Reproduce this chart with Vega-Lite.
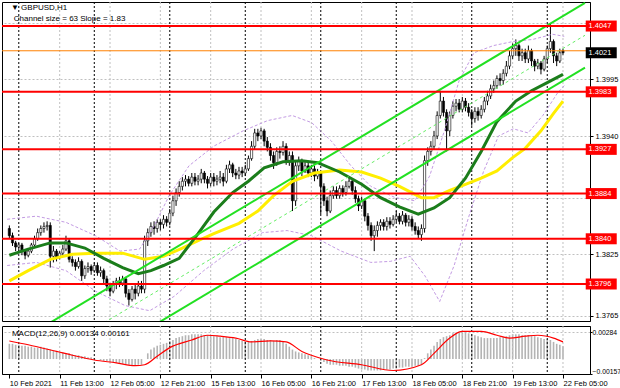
{
"$schema": "https://vega.github.io/schema/vega-lite/v6.json",
"background": "#ffffff",
"padding": {"left": 0, "top": 1, "right": 0, "bottom": 0},
"spacing": 3,
"config": {
  "view": {"stroke": "#000000", "strokeWidth": 1},
  "axis": {"labelFont": "Liberation Sans", "labelFontSize": 7.5, "labelColor": "#000000", "domainColor": "#000000", "tickColor": "#000000"},
  "text": {"font": "Liberation Sans", "fontSize": 8}
},
"datasets": {
  "bars": [
{"t":-3,"o":1.3850,"h":1.3853,"l":1.3840,"c":1.3843,"m":0.0016},
{"t":-2,"o":1.3843,"h":1.3846,"l":1.3833,"c":1.3836,"m":0.0016},
{"t":-1,"o":1.3836,"h":1.3838,"l":1.3828,"c":1.3832,"m":0.0015},
{"t":0,"o":1.3832,"h":1.3836,"l":1.3828,"c":1.3834,"m":0.0015},
{"t":1,"o":1.3834,"h":1.3836,"l":1.3824,"c":1.3828,"m":0.0014},
{"t":2,"o":1.3828,"h":1.3830,"l":1.3820,"c":1.3824,"m":0.0014},
{"t":3,"o":1.3824,"h":1.3830,"l":1.3822,"c":1.3828,"m":0.0013},
{"t":4,"o":1.3828,"h":1.3836,"l":1.3826,"c":1.3834,"m":0.0013},
{"t":5,"o":1.3834,"h":1.3843,"l":1.3832,"c":1.3840,"m":0.0012},
{"t":6,"o":1.3840,"h":1.3850,"l":1.3838,"c":1.3846,"m":0.0012},
{"t":7,"o":1.3846,"h":1.3853,"l":1.3843,"c":1.3850,"m":0.0013},
{"t":8,"o":1.3850,"h":1.3856,"l":1.3846,"c":1.3852,"m":0.0012},
{"t":9,"o":1.3852,"h":1.3857,"l":1.3848,"c":1.3853,"m":0.0011},
{"t":10,"o":1.3853,"h":1.3856,"l":1.3812,"c":1.3823,"m":0.0010},
{"t":11,"o":1.3823,"h":1.3833,"l":1.3817,"c":1.3828,"m":0.0009},
{"t":12,"o":1.3828,"h":1.3830,"l":1.3818,"c":1.3822,"m":0.0008},
{"t":13,"o":1.3822,"h":1.3828,"l":1.3820,"c":1.3826,"m":0.0007},
{"t":14,"o":1.3826,"h":1.3834,"l":1.3823,"c":1.3830,"m":0.0007},
{"t":15,"o":1.3830,"h":1.3843,"l":1.3828,"c":1.3838,"m":0.0006},
{"t":16,"o":1.3838,"h":1.3840,"l":1.3817,"c":1.3820,"m":0.0006},
{"t":17,"o":1.3820,"h":1.3823,"l":1.3813,"c":1.3817,"m":0.0005},
{"t":18,"o":1.3817,"h":1.3820,"l":1.3809,"c":1.3813,"m":0.0004},
{"t":19,"o":1.3813,"h":1.3822,"l":1.3811,"c":1.3818,"m":0.0004},
{"t":20,"o":1.3818,"h":1.3820,"l":1.3799,"c":1.3804,"m":0.0003},
{"t":21,"o":1.3804,"h":1.3814,"l":1.3801,"c":1.3811,"m":0.0003},
{"t":22,"o":1.3811,"h":1.3817,"l":1.3807,"c":1.3813,"m":0.0002},
{"t":23,"o":1.3813,"h":1.3815,"l":1.3805,"c":1.3809,"m":0.0002},
{"t":24,"o":1.3809,"h":1.3817,"l":1.3807,"c":1.3814,"m":0.0001},
{"t":25,"o":1.3814,"h":1.3817,"l":1.3804,"c":1.3807,"m":0.0000},
{"t":26,"o":1.3807,"h":1.3813,"l":1.3803,"c":1.3809,"m":-0.0001},
{"t":27,"o":1.3809,"h":1.3811,"l":1.3797,"c":1.3801,"m":-0.0002},
{"t":28,"o":1.3801,"h":1.3804,"l":1.3789,"c":1.3794,"m":-0.0002},
{"t":29,"o":1.3794,"h":1.3797,"l":1.3784,"c":1.3789,"m":-0.0003},
{"t":30,"o":1.3789,"h":1.3799,"l":1.3787,"c":1.3796,"m":-0.0004},
{"t":31,"o":1.3796,"h":1.3802,"l":1.3791,"c":1.3799,"m":-0.0004},
{"t":32,"o":1.3799,"h":1.3803,"l":1.3793,"c":1.3797,"m":-0.0005},
{"t":33,"o":1.3797,"h":1.3804,"l":1.3794,"c":1.3801,"m":-0.0005},
{"t":34,"o":1.3801,"h":1.3803,"l":1.3783,"c":1.3787,"m":-0.0006},
{"t":35,"o":1.3787,"h":1.3791,"l":1.3775,"c":1.3781,"m":-0.0006},
{"t":36,"o":1.3781,"h":1.3794,"l":1.3779,"c":1.3791,"m":-0.0007},
{"t":37,"o":1.3791,"h":1.3795,"l":1.3781,"c":1.3787,"m":-0.0007},
{"t":38,"o":1.3787,"h":1.3799,"l":1.3784,"c":1.3794,"m":-0.0006},
{"t":39,"o":1.3794,"h":1.3799,"l":1.3787,"c":1.3791,"m":-0.0006},
{"t":40,"o":1.3791,"h":1.3843,"l":1.3787,"c":1.3838,"m":0.0000},
{"t":41,"o":1.3838,"h":1.3850,"l":1.3833,"c":1.3846,"m":0.0006},
{"t":42,"o":1.3846,"h":1.3856,"l":1.3842,"c":1.3852,"m":0.0010},
{"t":43,"o":1.3852,"h":1.3857,"l":1.3844,"c":1.3850,"m":0.0012},
{"t":44,"o":1.3850,"h":1.3859,"l":1.3846,"c":1.3856,"m":0.0014},
{"t":45,"o":1.3856,"h":1.3859,"l":1.3848,"c":1.3854,"m":0.0015},
{"t":46,"o":1.3854,"h":1.3863,"l":1.3850,"c":1.3859,"m":0.0016},
{"t":47,"o":1.3859,"h":1.3862,"l":1.3852,"c":1.3856,"m":0.0017},
{"t":48,"o":1.3856,"h":1.3869,"l":1.3853,"c":1.3865,"m":0.0019},
{"t":49,"o":1.3865,"h":1.3882,"l":1.3862,"c":1.3877,"m":0.0020},
{"t":50,"o":1.3877,"h":1.3889,"l":1.3872,"c":1.3885,"m":0.0022},
{"t":51,"o":1.3885,"h":1.3896,"l":1.3881,"c":1.3891,"m":0.0023},
{"t":52,"o":1.3891,"h":1.3900,"l":1.3887,"c":1.3896,"m":0.0024},
{"t":53,"o":1.3896,"h":1.3902,"l":1.3891,"c":1.3898,"m":0.0025},
{"t":54,"o":1.3898,"h":1.3901,"l":1.3891,"c":1.3894,"m":0.0025},
{"t":55,"o":1.3894,"h":1.3904,"l":1.3891,"c":1.3900,"m":0.0026},
{"t":56,"o":1.3900,"h":1.3904,"l":1.3892,"c":1.3896,"m":0.0026},
{"t":57,"o":1.3896,"h":1.3902,"l":1.3892,"c":1.3898,"m":0.0026},
{"t":58,"o":1.3898,"h":1.3908,"l":1.3894,"c":1.3904,"m":0.0026},
{"t":59,"o":1.3904,"h":1.3906,"l":1.3894,"c":1.3898,"m":0.0025},
{"t":60,"o":1.3898,"h":1.3901,"l":1.3889,"c":1.3894,"m":0.0025},
{"t":61,"o":1.3894,"h":1.3904,"l":1.3891,"c":1.3900,"m":0.0025},
{"t":62,"o":1.3900,"h":1.3904,"l":1.3891,"c":1.3896,"m":0.0024},
{"t":63,"o":1.3896,"h":1.3902,"l":1.3892,"c":1.3898,"m":0.0024},
{"t":64,"o":1.3898,"h":1.3906,"l":1.3894,"c":1.3900,"m":0.0023},
{"t":65,"o":1.3900,"h":1.3904,"l":1.3891,"c":1.3896,"m":0.0023},
{"t":66,"o":1.3896,"h":1.3912,"l":1.3894,"c":1.3908,"m":0.0023},
{"t":67,"o":1.3908,"h":1.3916,"l":1.3904,"c":1.3912,"m":0.0022},
{"t":68,"o":1.3912,"h":1.3914,"l":1.3900,"c":1.3904,"m":0.0022},
{"t":69,"o":1.3904,"h":1.3908,"l":1.3898,"c":1.3902,"m":0.0021},
{"t":70,"o":1.3902,"h":1.3910,"l":1.3898,"c":1.3906,"m":0.0020},
{"t":71,"o":1.3906,"h":1.3910,"l":1.3900,"c":1.3904,"m":0.0019},
{"t":72,"o":1.3904,"h":1.3912,"l":1.3901,"c":1.3908,"m":0.0018},
{"t":73,"o":1.3908,"h":1.3921,"l":1.3906,"c":1.3918,"m":0.0018},
{"t":74,"o":1.3918,"h":1.3935,"l":1.3916,"c":1.3930,"m":0.0019},
{"t":75,"o":1.3930,"h":1.3947,"l":1.3927,"c":1.3943,"m":0.0020},
{"t":76,"o":1.3943,"h":1.3947,"l":1.3935,"c":1.3940,"m":0.0021},
{"t":77,"o":1.3940,"h":1.3948,"l":1.3937,"c":1.3945,"m":0.0021},
{"t":78,"o":1.3945,"h":1.3947,"l":1.3930,"c":1.3935,"m":0.0021},
{"t":79,"o":1.3935,"h":1.3939,"l":1.3925,"c":1.3929,"m":0.0020},
{"t":80,"o":1.3929,"h":1.3933,"l":1.3916,"c":1.3921,"m":0.0020},
{"t":81,"o":1.3921,"h":1.3925,"l":1.3908,"c":1.3914,"m":0.0019},
{"t":82,"o":1.3914,"h":1.3929,"l":1.3911,"c":1.3925,"m":0.0020},
{"t":83,"o":1.3925,"h":1.3930,"l":1.3918,"c":1.3924,"m":0.0020},
{"t":84,"o":1.3924,"h":1.3935,"l":1.3921,"c":1.3930,"m":0.0019},
{"t":85,"o":1.3930,"h":1.3933,"l":1.3912,"c":1.3916,"m":0.0016},
{"t":86,"o":1.3916,"h":1.3925,"l":1.3911,"c":1.3921,"m":0.0013},
{"t":87,"o":1.3921,"h":1.3925,"l":1.3867,"c":1.3877,"m":0.0010},
{"t":88,"o":1.3877,"h":1.3916,"l":1.3872,"c":1.3911,"m":0.0008},
{"t":89,"o":1.3911,"h":1.3920,"l":1.3906,"c":1.3916,"m":0.0007},
{"t":90,"o":1.3916,"h":1.3918,"l":1.3901,"c":1.3906,"m":0.0006},
{"t":91,"o":1.3906,"h":1.3916,"l":1.3904,"c":1.3911,"m":0.0005},
{"t":92,"o":1.3911,"h":1.3914,"l":1.3900,"c":1.3904,"m":0.0004},
{"t":93,"o":1.3904,"h":1.3912,"l":1.3900,"c":1.3908,"m":0.0003},
{"t":94,"o":1.3908,"h":1.3911,"l":1.3896,"c":1.3901,"m":0.0001},
{"t":95,"o":1.3901,"h":1.3908,"l":1.3898,"c":1.3904,"m":0.0000},
{"t":96,"o":1.3904,"h":1.3906,"l":1.3864,"c":1.3891,"m":-0.0002},
{"t":97,"o":1.3891,"h":1.3894,"l":1.3872,"c":1.3877,"m":-0.0003},
{"t":98,"o":1.3877,"h":1.3881,"l":1.3862,"c":1.3867,"m":-0.0005},
{"t":99,"o":1.3867,"h":1.3887,"l":1.3865,"c":1.3882,"m":-0.0006},
{"t":100,"o":1.3882,"h":1.3891,"l":1.3879,"c":1.3887,"m":-0.0006},
{"t":101,"o":1.3887,"h":1.3891,"l":1.3879,"c":1.3882,"m":-0.0006},
{"t":102,"o":1.3882,"h":1.3892,"l":1.3879,"c":1.3889,"m":-0.0007},
{"t":103,"o":1.3889,"h":1.3892,"l":1.3881,"c":1.3885,"m":-0.0007},
{"t":104,"o":1.3885,"h":1.3896,"l":1.3882,"c":1.3891,"m":-0.0007},
{"t":105,"o":1.3891,"h":1.3901,"l":1.3889,"c":1.3896,"m":-0.0008},
{"t":106,"o":1.3896,"h":1.3898,"l":1.3883,"c":1.3887,"m":-0.0008},
{"t":107,"o":1.3887,"h":1.3891,"l":1.3875,"c":1.3879,"m":-0.0009},
{"t":108,"o":1.3879,"h":1.3882,"l":1.3867,"c":1.3872,"m":-0.0010},
{"t":109,"o":1.3872,"h":1.3881,"l":1.3869,"c":1.3877,"m":-0.0011},
{"t":110,"o":1.3877,"h":1.3879,"l":1.3857,"c":1.3862,"m":-0.0011},
{"t":111,"o":1.3862,"h":1.3865,"l":1.3848,"c":1.3853,"m":-0.0012},
{"t":112,"o":1.3853,"h":1.3856,"l":1.3838,"c":1.3843,"m":-0.0012},
{"t":113,"o":1.3843,"h":1.3853,"l":1.3828,"c":1.3848,"m":-0.0012},
{"t":114,"o":1.3848,"h":1.3857,"l":1.3842,"c":1.3853,"m":-0.0012},
{"t":115,"o":1.3853,"h":1.3859,"l":1.3848,"c":1.3856,"m":-0.0012},
{"t":116,"o":1.3856,"h":1.3859,"l":1.3848,"c":1.3852,"m":-0.0011},
{"t":117,"o":1.3852,"h":1.3861,"l":1.3848,"c":1.3857,"m":-0.0011},
{"t":118,"o":1.3857,"h":1.3861,"l":1.3850,"c":1.3854,"m":-0.0011},
{"t":119,"o":1.3854,"h":1.3863,"l":1.3852,"c":1.3859,"m":-0.0010},
{"t":120,"o":1.3859,"h":1.3867,"l":1.3856,"c":1.3862,"m":-0.0010},
{"t":121,"o":1.3862,"h":1.3865,"l":1.3854,"c":1.3857,"m":-0.0009},
{"t":122,"o":1.3857,"h":1.3867,"l":1.3854,"c":1.3863,"m":-0.0009},
{"t":123,"o":1.3863,"h":1.3865,"l":1.3852,"c":1.3856,"m":-0.0008},
{"t":124,"o":1.3856,"h":1.3863,"l":1.3852,"c":1.3859,"m":-0.0008},
{"t":125,"o":1.3859,"h":1.3862,"l":1.3848,"c":1.3852,"m":-0.0008},
{"t":126,"o":1.3852,"h":1.3856,"l":1.3844,"c":1.3848,"m":-0.0007},
{"t":127,"o":1.3848,"h":1.3852,"l":1.3840,"c":1.3844,"m":-0.0007},
{"t":128,"o":1.3844,"h":1.3854,"l":1.3838,"c":1.3850,"m":-0.0006},
{"t":129,"o":1.3850,"h":1.3921,"l":1.3846,"c":1.3916,"m":0.0001},
{"t":130,"o":1.3916,"h":1.3929,"l":1.3911,"c":1.3925,"m":0.0006},
{"t":131,"o":1.3925,"h":1.3935,"l":1.3921,"c":1.3930,"m":0.0010},
{"t":132,"o":1.3930,"h":1.3945,"l":1.3927,"c":1.3940,"m":0.0014},
{"t":133,"o":1.3940,"h":1.3964,"l":1.3937,"c":1.3960,"m":0.0018},
{"t":134,"o":1.3960,"h":1.3984,"l":1.3957,"c":1.3974,"m":0.0021},
{"t":135,"o":1.3974,"h":1.3978,"l":1.3959,"c":1.3963,"m":0.0023},
{"t":136,"o":1.3963,"h":1.3966,"l":1.3925,"c":1.3945,"m":0.0024},
{"t":137,"o":1.3945,"h":1.3964,"l":1.3940,"c":1.3960,"m":0.0025},
{"t":138,"o":1.3960,"h":1.3974,"l":1.3957,"c":1.3969,"m":0.0027},
{"t":139,"o":1.3969,"h":1.3976,"l":1.3964,"c":1.3972,"m":0.0028},
{"t":140,"o":1.3972,"h":1.3976,"l":1.3963,"c":1.3966,"m":0.0028},
{"t":141,"o":1.3966,"h":1.3978,"l":1.3963,"c":1.3974,"m":0.0028},
{"t":142,"o":1.3974,"h":1.3977,"l":1.3964,"c":1.3968,"m":0.0028},
{"t":143,"o":1.3968,"h":1.3972,"l":1.3959,"c":1.3963,"m":0.0027},
{"t":144,"o":1.3963,"h":1.3966,"l":1.3950,"c":1.3957,"m":0.0026},
{"t":145,"o":1.3957,"h":1.3968,"l":1.3953,"c":1.3964,"m":0.0025},
{"t":146,"o":1.3964,"h":1.3968,"l":1.3955,"c":1.3960,"m":0.0024},
{"t":147,"o":1.3960,"h":1.3970,"l":1.3957,"c":1.3966,"m":0.0023},
{"t":148,"o":1.3966,"h":1.3978,"l":1.3963,"c":1.3974,"m":0.0022},
{"t":149,"o":1.3974,"h":1.3984,"l":1.3970,"c":1.3979,"m":0.0022},
{"t":150,"o":1.3979,"h":1.3990,"l":1.3976,"c":1.3986,"m":0.0022},
{"t":151,"o":1.3986,"h":1.3994,"l":1.3982,"c":1.3989,"m":0.0022},
{"t":152,"o":1.3989,"h":1.3999,"l":1.3986,"c":1.3996,"m":0.0022},
{"t":153,"o":1.3996,"h":1.4001,"l":1.3989,"c":1.3994,"m":0.0023},
{"t":154,"o":1.3994,"h":1.4005,"l":1.3990,"c":1.4001,"m":0.0023},
{"t":155,"o":1.4001,"h":1.4013,"l":1.3998,"c":1.4008,"m":0.0024},
{"t":156,"o":1.4008,"h":1.4023,"l":1.4005,"c":1.4018,"m":0.0025},
{"t":157,"o":1.4018,"h":1.4030,"l":1.4015,"c":1.4025,"m":0.0026},
{"t":158,"o":1.4025,"h":1.4034,"l":1.4018,"c":1.4028,"m":0.0026},
{"t":159,"o":1.4028,"h":1.4030,"l":1.4013,"c":1.4018,"m":0.0026},
{"t":160,"o":1.4018,"h":1.4025,"l":1.4013,"c":1.4021,"m":0.0025},
{"t":161,"o":1.4021,"h":1.4025,"l":1.4011,"c":1.4015,"m":0.0025},
{"t":162,"o":1.4015,"h":1.4028,"l":1.4011,"c":1.4023,"m":0.0025},
{"t":163,"o":1.4023,"h":1.4025,"l":1.4008,"c":1.4013,"m":0.0024},
{"t":164,"o":1.4013,"h":1.4015,"l":1.4003,"c":1.4008,"m":0.0024},
{"t":165,"o":1.4008,"h":1.4015,"l":1.4005,"c":1.4011,"m":0.0023},
{"t":166,"o":1.4011,"h":1.4013,"l":1.4000,"c":1.4005,"m":0.0022},
{"t":167,"o":1.4005,"h":1.4018,"l":1.4003,"c":1.4015,"m":0.0021},
{"t":168,"o":1.4015,"h":1.4028,"l":1.4011,"c":1.4025,"m":0.0021},
{"t":169,"o":1.4025,"h":1.4050,"l":1.4021,"c":1.4032,"m":0.0020},
{"t":170,"o":1.4032,"h":1.4034,"l":1.4011,"c":1.4018,"m":0.0018},
{"t":171,"o":1.4018,"h":1.4021,"l":1.4008,"c":1.4013,"m":0.0016},
{"t":172,"o":1.4013,"h":1.4025,"l":1.4011,"c":1.4021,"m":0.0015},
{"t":173,"o":1.4023,"h":1.4025,"l":1.4019,"c":1.4021,"m":0.00134}
  ],
  "maGreen": [
{"t":-3,"v":1.3824},{"t":3,"v":1.3830},{"t":10,"v":1.3836},{"t":15,"v":1.3836},{"t":21,"v":1.3831},{"t":27,"v":1.3821},{"t":33,"v":1.3812},{"t":38,"v":1.3806},{"t":42,"v":1.3809},{"t":46,"v":1.3814},{"t":51,"v":1.3821},{"t":57,"v":1.3845},{"t":62,"v":1.3866},{"t":68,"v":1.3885},{"t":73,"v":1.3896},{"t":78,"v":1.3909},{"t":84,"v":1.3915},{"t":90,"v":1.3916},{"t":95,"v":1.3914},{"t":102,"v":1.3905},{"t":109,"v":1.3893},{"t":115,"v":1.3880},{"t":121,"v":1.3871},{"t":127,"v":1.3864},{"t":132,"v":1.3870},{"t":137,"v":1.3880},{"t":142,"v":1.3899},{"t":147,"v":1.3925},{"t":152,"v":1.3954},{"t":158,"v":1.3974},{"t":163,"v":1.3984},{"t":168,"v":1.3992},{"t":173,"v":1.4000}
  ],
  "maYellow": [
{"t":-3,"v":1.3799},{"t":3,"v":1.3809},{"t":10,"v":1.3820},{"t":17,"v":1.3825},{"t":24,"v":1.3826},{"t":33,"v":1.3826},{"t":40,"v":1.3820},{"t":46,"v":1.3823},{"t":52,"v":1.3831},{"t":59,"v":1.3841},{"t":62,"v":1.3845},{"t":70,"v":1.3855},{"t":76,"v":1.3867},{"t":81,"v":1.3882},{"t":87,"v":1.3896},{"t":94,"v":1.3904},{"t":102,"v":1.3907},{"t":109,"v":1.3905},{"t":115,"v":1.3899},{"t":121,"v":1.3891},{"t":128,"v":1.3880},{"t":132,"v":1.3880},{"t":137,"v":1.3887},{"t":142,"v":1.3893},{"t":147,"v":1.3899},{"t":152,"v":1.3906},{"t":157,"v":1.3919},{"t":161,"v":1.3928},{"t":166,"v":1.3945},{"t":170,"v":1.3962},{"t":173,"v":1.3974}
  ],
  "bands": [
{"k":"u","t":-3.7,"v":1.3859},{"k":"u","t":5.6,"v":1.3862},{"k":"u","t":15,"v":1.3856},{"k":"u","t":24.4,"v":1.3843},{"k":"u","t":32.2,"v":1.3828},{"k":"u","t":38.4,"v":1.3830},{"k":"u","t":43.1,"v":1.3853},{"k":"u","t":47.8,"v":1.3882},{"k":"u","t":54.1,"v":1.3911},{"k":"u","t":61.9,"v":1.3930},{"k":"u","t":71.3,"v":1.3945},{"k":"u","t":79.1,"v":1.3955},{"k":"u","t":86.9,"v":1.3960},{"k":"u","t":93.1,"v":1.3953},{"k":"u","t":99.4,"v":1.3935},{"k":"u","t":105.6,"v":1.3911},{"k":"u","t":111.9,"v":1.3891},{"k":"u","t":119.7,"v":1.3880},{"k":"u","t":125.9,"v":1.3877},{"k":"u","t":130.6,"v":1.3901},{"k":"u","t":135.3,"v":1.3945},{"k":"u","t":140,"v":1.3994},{"k":"u","t":144.7,"v":1.4021},{"k":"u","t":150.9,"v":1.4028},{"k":"u","t":157.2,"v":1.4032},{"k":"u","t":163.4,"v":1.4034},{"k":"u","t":169.7,"v":1.4039},{"k":"u","t":173.4,"v":1.4037},
{"k":"l","t":-3.7,"v":1.3814},{"k":"l","t":5.6,"v":1.3817},{"k":"l","t":15,"v":1.3809},{"k":"l","t":24.4,"v":1.3789},{"k":"l","t":33.8,"v":1.3775},{"k":"l","t":41.6,"v":1.3770},{"k":"l","t":49.4,"v":1.3784},{"k":"l","t":58.8,"v":1.3809},{"k":"l","t":68.1,"v":1.3830},{"k":"l","t":77.5,"v":1.3846},{"k":"l","t":85.3,"v":1.3848},{"k":"l","t":93.1,"v":1.3843},{"k":"l","t":102.5,"v":1.3828},{"k":"l","t":111.9,"v":1.3817},{"k":"l","t":118.1,"v":1.3818},{"k":"l","t":124.4,"v":1.3823},{"k":"l","t":129.1,"v":1.3804},{"k":"l","t":133.8,"v":1.3779},{"k":"l","t":138.4,"v":1.3814},{"k":"l","t":143.1,"v":1.3862},{"k":"l","t":147.8,"v":1.3906},{"k":"l","t":152.5,"v":1.3940},{"k":"l","t":157.2,"v":1.3947},{"k":"l","t":161.9,"v":1.3943},{"k":"l","t":166.6,"v":1.3960},{"k":"l","t":171.3,"v":1.3982},{"k":"l","t":173.4,"v":1.3989}
  ],
  "chan": [
{"k":"upper","t":-4,"v":1.37328},{"k":"upper","t":180,"v":1.40695},
{"k":"lower","t":-4,"v":1.36698},{"k":"lower","t":180,"v":1.40065}
  ],
  "chanMid": [
{"t":-4,"v":1.37013},{"t":180,"v":1.40380}
  ],
  "levels": [{"p":1.4047},{"p":1.3983},{"p":1.3927},{"p":1.3884},{"p":1.3840},{"p":1.3796}],
  "current": [{"p":1.4021}],
  "vgrid": [{"t":13},{"t":29},{"t":45},{"t":61},{"t":77},{"t":93},{"t":109},{"t":125},{"t":141},{"t":157},{"t":173}],
  "days": [{"t":0},{"t":24},{"t":48},{"t":72},{"t":96},{"t":120},{"t":144},{"t":168}],
  "sig": [
{"t":-3,"s":0.0019},{"t":3,"s":0.0015},{"t":12,"s":0.0008},{"t":17,"s":0.0004},{"t":24,"s":-0.0001},{"t":31,"s":-0.0004},{"t":37,"s":-0.0007},{"t":40,"s":-0.0006},{"t":44,"s":0.0003},{"t":48,"s":0.0012},{"t":55,"s":0.0020},{"t":60,"s":0.0025},{"t":64,"s":0.0024},{"t":69,"s":0.0022},{"t":74,"s":0.0018},{"t":80,"s":0.0019},{"t":85,"s":0.0018},{"t":90,"s":0.0008},{"t":93,"s":0.0004},{"t":98,"s":-0.0001},{"t":109,"s":-0.0006},{"t":119,"s":-0.0012},{"t":128,"s":-0.0006},{"t":132,"s":0.0006},{"t":137,"s":0.0022},{"t":141,"s":0.0029},{"t":147,"s":0.0029},{"t":152,"s":0.0025},{"t":156,"s":0.0022},{"t":161,"s":0.0024},{"t":165,"s":0.0025},{"t":170,"s":0.0022},{"t":173,"s":0.0018}
  ]
},
"vconcat": [
{
  "width": 588,
  "height": 319,
  "layer": [
    {"data": {"name": "vgrid"}, "mark": {"type": "rule", "color": "#c0c0c0", "strokeDash": [2, 2], "strokeWidth": 1},
     "encoding": {"x": {"field": "t", "type": "quantitative", "title": null, "axis": null, "scale": {"domain": [-3.75, 180], "nice": false, "zero": false}}}},
    {"data": {"name": "days"}, "mark": {"type": "rule", "color": "#000000", "strokeDash": [2, 2], "strokeWidth": 1},
     "encoding": {"x": {"field": "t", "type": "quantitative", "title": null, "axis": null}}},
    {"data": {"name": "bars"}, "mark": {"type": "rule", "color": "#000000", "strokeWidth": 1},
     "encoding": {
       "x": {"field": "t", "type": "quantitative", "title": null, "axis": null},
       "y": {"field": "l", "type": "quantitative", "title": null, "scale": {"domain": [1.376, 1.40704], "nice": false, "zero": false},
             "axis": {"orient": "right", "values": [1.3765, 1.3795, 1.3825, 1.3855, 1.388, 1.391, 1.394, 1.3965, 1.3995, 1.4025, 1.405],
                      "labelExpr": "(abs(datum.value-1.3795)<0.00001 || abs(datum.value-1.388)<0.00001 || abs(datum.value-1.4025)<0.00001 || abs(datum.value-1.405)<0.00001) ? '' : format(datum.value,'.4f')",
                      "grid": true, "gridColor": "#c0c0c0", "gridDash": [2, 2], "tickSize": 3, "labelPadding": 2, "labelFlush": false, "labelOverlap": false}},
       "y2": {"field": "h"}}},
    {"data": {"name": "bars"}, "mark": {"type": "bar", "width": 2.2, "stroke": "#000000", "strokeWidth": 0.6},
     "encoding": {
       "x": {"field": "t", "type": "quantitative", "title": null, "axis": null},
       "y": {"field": "o", "type": "quantitative", "title": null},
       "y2": {"field": "c"},
       "fill": {"condition": {"test": "datum.c >= datum.o", "value": "#ffffff"}, "value": "#000000"}}},
    {"data": {"name": "bands"}, "mark": {"type": "line", "color": "#c39be3", "strokeWidth": 1, "strokeDash": [3, 2], "clip": true},
     "encoding": {
       "x": {"field": "t", "type": "quantitative", "title": null, "axis": null},
       "y": {"field": "v", "type": "quantitative", "title": null},
       "detail": {"field": "k"}}},
    {"data": {"name": "maYellow"}, "mark": {"type": "line", "color": "#ffee00", "strokeWidth": 3, "clip": true},
     "encoding": {
       "x": {"field": "t", "type": "quantitative", "title": null, "axis": null},
       "y": {"field": "v", "type": "quantitative", "title": null}}},
    {"data": {"name": "maGreen"}, "mark": {"type": "line", "color": "#1b7d1b", "strokeWidth": 3, "clip": true},
     "encoding": {
       "x": {"field": "t", "type": "quantitative", "title": null, "axis": null},
       "y": {"field": "v", "type": "quantitative", "title": null}}},
    {"data": {"name": "chan"}, "mark": {"type": "line", "color": "#22e022", "strokeWidth": 2, "clip": true},
     "encoding": {
       "x": {"field": "t", "type": "quantitative", "title": null, "axis": null},
       "y": {"field": "v", "type": "quantitative", "title": null},
       "detail": {"field": "k"}}},
    {"data": {"name": "chanMid"}, "mark": {"type": "line", "color": "#66ee66", "strokeWidth": 1, "strokeDash": [3, 3], "clip": true},
     "encoding": {
       "x": {"field": "t", "type": "quantitative", "title": null, "axis": null},
       "y": {"field": "v", "type": "quantitative", "title": null}}},
    {"data": {"name": "levels"}, "mark": {"type": "rule", "color": "#ff0000", "strokeWidth": 2},
     "encoding": {"y": {"field": "p", "type": "quantitative", "title": null}}},
    {"data": {"name": "current"}, "mark": {"type": "rule", "color": "#ff8000", "strokeWidth": 1, "yOffset": -2},
     "encoding": {"y": {"field": "p", "type": "quantitative", "title": null}}},
    {"data": {"name": "levels"}, "mark": {"type": "tick", "orient": "horizontal", "color": "#ff0000", "size": 31, "thickness": 11, "opacity": 1},
     "encoding": {
       "x": {"datum": 185.16, "type": "quantitative", "axis": null, "title": null},
       "y": {"field": "p", "type": "quantitative", "title": null}}},
    {"data": {"name": "levels"}, "mark": {"type": "text", "color": "#ffffff", "align": "left", "baseline": "middle", "fontSize": 7.5},
     "encoding": {
       "x": {"datum": 181.1, "type": "quantitative", "axis": null, "title": null},
       "y": {"field": "p", "type": "quantitative", "title": null},
       "text": {"field": "p", "type": "quantitative", "format": ".4f"}}},
    {"data": {"name": "current"}, "mark": {"type": "tick", "orient": "horizontal", "color": "#000000", "size": 31, "thickness": 11, "opacity": 1},
     "encoding": {
       "x": {"datum": 185.16, "type": "quantitative", "axis": null, "title": null},
       "y": {"field": "p", "type": "quantitative", "title": null}}},
    {"data": {"name": "current"}, "mark": {"type": "text", "color": "#ffffff", "align": "left", "baseline": "middle", "fontSize": 7.5},
     "encoding": {
       "x": {"datum": 181.1, "type": "quantitative", "axis": null, "title": null},
       "y": {"field": "p", "type": "quantitative", "title": null},
       "text": {"field": "p", "type": "quantitative", "format": ".4f"}}},
    {"data": {"values": [{"s": "▼ GBPUSD,H1"}]}, "mark": {"type": "text", "color": "#000000", "align": "left", "baseline": "middle", "fontSize": 8},
     "encoding": {
       "x": {"datum": -2.5, "type": "quantitative", "axis": null, "title": null},
       "y": {"datum": 1.40646, "type": "quantitative", "title": null},
       "text": {"field": "s"}}},
    {"data": {"values": [{"s": "Channel size = 63 Slope = 1.83"}]}, "mark": {"type": "text", "color": "#000000", "align": "left", "baseline": "middle", "fontSize": 8},
     "encoding": {
       "x": {"datum": -1.6, "type": "quantitative", "axis": null, "title": null},
       "y": {"datum": 1.40541, "type": "quantitative", "title": null},
       "text": {"field": "s"}}}
  ]
},
{
  "width": 588,
  "height": 48,
  "layer": [
    {"data": {"name": "bars"}, "mark": {"type": "bar", "width": 1.6, "color": "#b4b4b4"},
     "encoding": {
       "x": {"field": "t", "type": "quantitative", "title": null, "scale": {"domain": [-3.75, 180], "nice": false, "zero": false},
             "axis": {"orient": "bottom", "values": [-3, 13, 29, 45, 61, 77, 93, 109, 125, 141, 157, 173],
                      "labelExpr": "datum.value==-3?'10 Feb 2021':datum.value==13?'11 Feb 13:00':datum.value==29?'12 Feb 05:00':datum.value==45?'12 Feb 21:00':datum.value==61?'15 Feb 13:00':datum.value==77?'16 Feb 05:00':datum.value==93?'16 Feb 21:00':datum.value==109?'17 Feb 13:00':datum.value==125?'18 Feb 05:00':datum.value==141?'18 Feb 21:00':datum.value==157?'19 Feb 13:00':'22 Feb 05:00'",
                      "labelAlign": "left", "labelFlush": false, "labelOverlap": false, "labelBound": false, "tickSize": 4, "labelPadding": 1, "grid": false}},
       "y": {"field": "m", "type": "quantitative", "title": null, "scale": {"domain": [-0.00157, 0.00347], "nice": false, "zero": false},
             "axis": {"orient": "right", "values": [0.00284, 0, -0.00157], "labelExpr": "datum.value==0?'0.00':format(datum.value,'.5f')", "labelFontSize": 6.8, "grid": true, "gridColor": "#c0c0c0", "gridDash": [2, 2], "tickSize": 2, "labelPadding": 0, "labelFlush": true, "labelOverlap": false}},
       "y2": {"datum": 0}}},
    {"data": {"name": "vgrid"}, "mark": {"type": "rule", "color": "#c0c0c0", "strokeDash": [2, 2], "strokeWidth": 1},
     "encoding": {"x": {"field": "t", "type": "quantitative", "title": null}}},
    {"data": {"name": "days"}, "mark": {"type": "rule", "color": "#000000", "strokeDash": [2, 2], "strokeWidth": 1},
     "encoding": {"x": {"field": "t", "type": "quantitative", "title": null}}},
    {"data": {"name": "sig"}, "mark": {"type": "line", "color": "#ff0000", "strokeWidth": 1.2, "interpolate": "monotone"},
     "encoding": {
       "x": {"field": "t", "type": "quantitative", "title": null},
       "y": {"field": "s", "type": "quantitative", "title": null}}},
    {"data": {"values": [{"s": "MACD(12,26,9) 0.00134 0.00161"}]}, "mark": {"type": "text", "color": "#000000", "align": "left", "baseline": "middle", "fontSize": 8},
     "encoding": {
       "x": {"datum": -2.2, "type": "quantitative", "title": null},
       "y": {"datum": 0.0026, "type": "quantitative", "title": null},
       "text": {"field": "s"}}}
  ]
}
]
}
